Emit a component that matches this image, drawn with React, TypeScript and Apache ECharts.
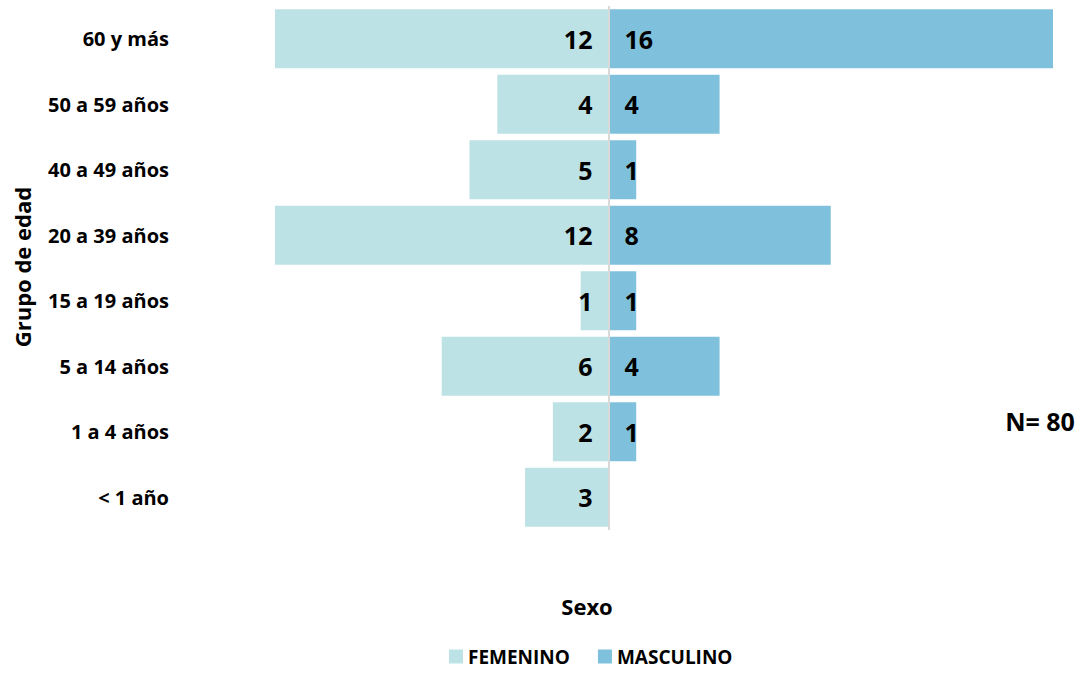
import React, { useEffect, useRef } from "react";
import * as echarts from "echarts";

const categories = ["< 1 año", "1 a 4 años", "5 a 14 años", "15 a 19 años", "20 a 39 años", "40 a 49 años", "50 a 59 años", "60 y más"];
const femenino = [3, 2, 6, 1, 12, 5, 4, 12];
const masculino = [0, 1, 4, 1, 8, 1, 4, 16];
const legendNames = ["FEMENINO", "MASCULINO"];
const totalLabel = "N= 80";

const FONT = "'Open Sans', Lato, sans-serif";

export default function App() {
  const ref = useRef<HTMLDivElement>(null);
  useEffect(() => {
    if (!ref.current) return;
    const chart = echarts.init(ref.current, undefined, { renderer: "svg" });
    chart.setOption({
      animation: false,
      backgroundColor: "#ffffff",
      textStyle: { fontFamily: FONT },
      grid: { left: 275, right: 28, top: 6, bottom: 145, containLabel: false },
      xAxis: {
        type: "value",
        min: -12,
        max: 16,
        show: false,
      },
      yAxis: {
        type: "category",
        data: categories,
        axisLine: { show: false, onZero: false },
        axisTick: { show: false },
        axisLabel: {
          margin: 106,
          color: "#000",
          fontWeight: "bold",
          fontSize: 20,
          fontFamily: FONT,
        },
      },
      legend: {
        data: legendNames,
        left: 449,
        top: 647,
        padding: 0,
        itemWidth: 14,
        itemHeight: 14,
        itemGap: 28,
        icon: "rect",
        textStyle: { color: "#000", fontWeight: "bold", fontSize: 19, fontFamily: FONT },
      },
      series: [
        {
          name: legendNames[0],
          type: "bar",
          stack: "total",
          barCategoryGap: "10%",
          data: femenino.map((v) => -v),
          itemStyle: { color: "#BDE2E6" },
          label: {
            show: true,
            position: "insideRight",
            distance: 16,
            color: "#000",
            fontWeight: "bold",
            fontSize: 25,
            fontFamily: FONT,
            formatter: (p: any) => String(Math.abs(p.value)),
          },
          markLine: {
            silent: true,
            symbol: "none",
            label: { show: false },
            lineStyle: { color: "#d9d9d9", width: 2, type: "solid" },
            data: [{ xAxis: 0 }],
          },
        },
        {
          name: legendNames[1],
          type: "bar",
          stack: "total",
          barCategoryGap: "10%",
          data: masculino,
          itemStyle: { color: "#7FC1DC" },
          label: {
            show: true,
            position: "insideLeft",
            distance: 16,
            color: "#000",
            fontWeight: "bold",
            fontSize: 25,
            fontFamily: FONT,
            formatter: (p: any) => (p.value ? String(p.value) : ""),
          },
        },
      ],
      graphic: [
        {
          type: "text",
          x: 22,
          y: 267,
          rotation: Math.PI / 2,
          style: {
            text: "Grupo de edad",
            fill: "#000",
            font: `bold 22px ${FONT}`,
            textAlign: "center",
            textVerticalAlign: "middle",
          },
        },
        {
          type: "text",
          x: 587,
          y: 606,
          style: {
            text: "Sexo",
            fill: "#000",
            font: `bold 22px ${FONT}`,
            textAlign: "center",
            textVerticalAlign: "middle",
          },
        },
        {
          type: "text",
          x: 1040,
          y: 421,
          style: {
            text: totalLabel,
            fill: "#000",
            font: `bold 25px ${FONT}`,
            textAlign: "center",
            textVerticalAlign: "middle",
          },
        },
      ],
    });
    return () => chart.dispose();
  }, []);
  return (
    <div
      ref={ref}
      style={{ position: "absolute", left: 0, top: 0, width: 1081, height: 675 }}
    />
  );
}
